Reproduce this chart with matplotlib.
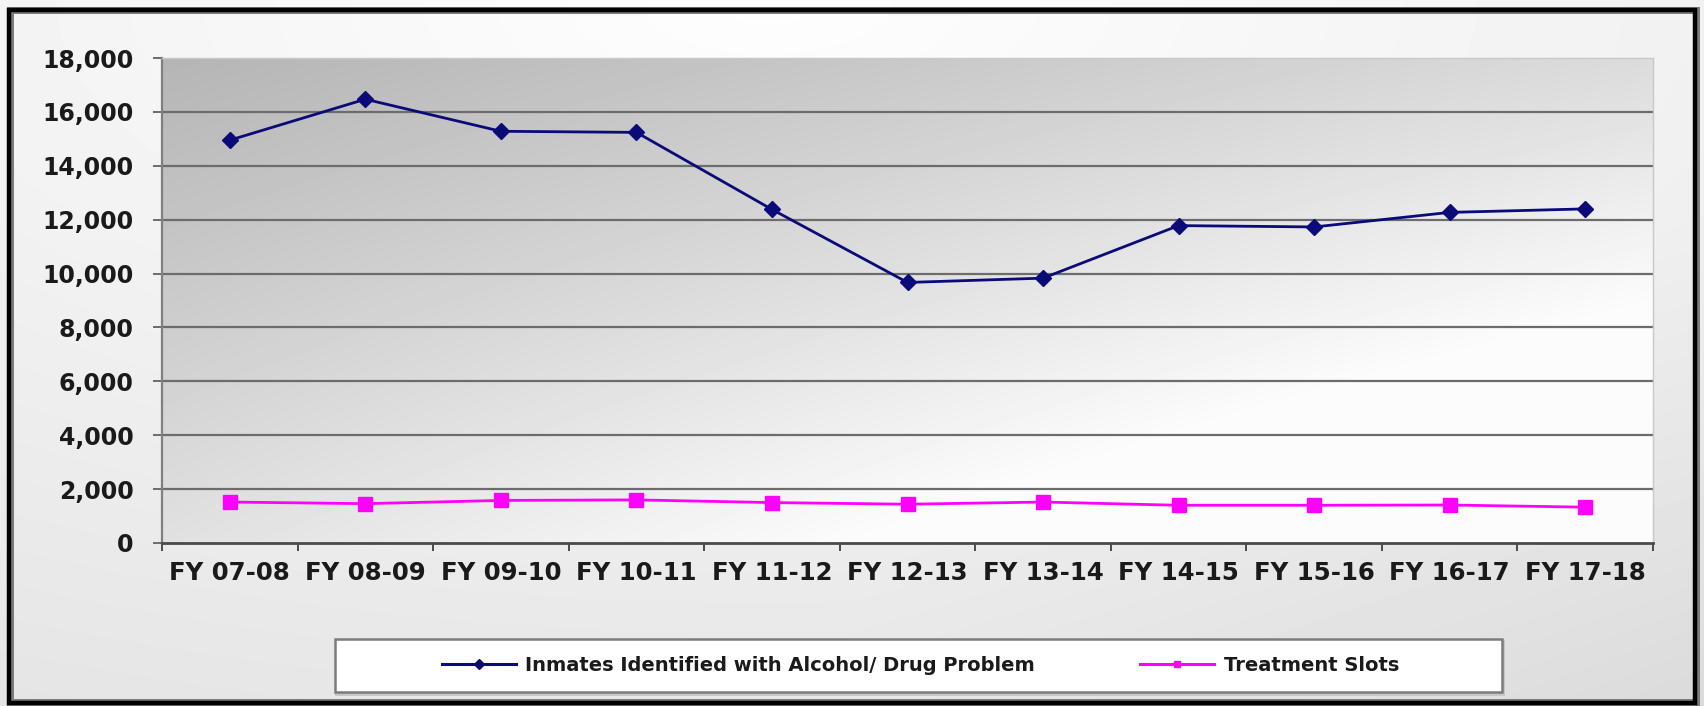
import numpy as np
import matplotlib
matplotlib.use("Agg")
import matplotlib.pyplot as plt
from matplotlib.lines import Line2D
from matplotlib.patches import Rectangle
from matplotlib.ticker import FixedLocator, FuncFormatter

# ---- data -------------------------------------------------------------
fiscal_years = ["FY 07-08", "FY 08-09", "FY 09-10", "FY 10-11", "FY 11-12",
                "FY 12-13", "FY 13-14", "FY 14-15", "FY 15-16", "FY 16-17",
                "FY 17-18"]
inmates_alcohol_drug = [14950, 16470, 15280, 15240, 12380, 9670, 9830,
                        11780, 11730, 12270, 12400]
treatment_slots = [1520, 1460, 1580, 1600, 1500, 1440, 1520, 1400, 1400,
                   1410, 1330]
y_ticks = [0, 2000, 4000, 6000, 8000, 10000, 12000, 14000, 16000, 18000]
series_names = ["Inmates Identified with Alcohol/ Drug Problem",
                "Treatment Slots"]

NAVY = "#0a0a78"
MAGENTA = "#ff00ff"
TEXT = "#1a1a1a"

W, H = 1704, 706
fig = plt.figure(figsize=(W / 100, H / 100), dpi=100)
fig.patch.set_facecolor("#f4f4f4")

# ---- soft page background inside the frame -----------------------------
bg = fig.add_axes([0, 0, 1, 1], zorder=-10)
bg.set_axis_off()
gx, gy = np.meshgrid(np.linspace(0, 1, 400), np.linspace(0, 1, 200))
# gy = 0 at top
shade = 0.995 - 0.10 * np.sqrt(((gx - 0.45) / 1.1) ** 2 + (gy * 0.9) ** 2)
shade -= 0.05 * np.clip(gy - 0.3, 0, 1) * np.clip(gx - 0.5, 0, 1) * 2
bg.imshow(shade, cmap="gray", vmin=0, vmax=1, aspect="auto",
          extent=[0, 1, 0, 1], origin="upper", interpolation="bicubic")
bg.set_xlim(0, 1)
bg.set_ylim(0, 1)

# outer black frame
fig.patches.append(Rectangle((10 / W, 4 / H), (W - 18) / W, (H - 14) / H,
                             transform=fig.transFigure, fill=False,
                             edgecolor="#7a7a7a", linewidth=5, zorder=-5))
fig.patches.append(Rectangle((9 / W, 3 / H), (W - 18) / W, (H - 13) / H,
                             transform=fig.transFigure, fill=False,
                             edgecolor="black", linewidth=3.2, zorder=-4))

# ---- plot area -----------------------------------------------------------
left, right, top, bottom = 162, 1653, 58, 543
ax = fig.add_axes([left / W, 1 - bottom / H, (right - left) / W,
                   (bottom - top) / H])
ax.set_facecolor("none")

n = len(fiscal_years)
x = np.arange(n)
ax.set_xlim(-0.5, n - 0.5)
ax.set_ylim(y_ticks[0], y_ticks[-1])

px, py = np.meshgrid(np.linspace(0, 1, 300), np.linspace(0, 1, 150))
# py = 0 at top
plot_shade = 0.71 + 0.15 * px + 0.17 * py - 0.02 * px * py
plot_shade = np.clip(plot_shade + 0.1 * px * py, 0, 0.985)
ax.imshow(plot_shade, cmap="gray", vmin=0, vmax=1, aspect="auto",
          extent=[-0.5, n - 0.5, y_ticks[0], y_ticks[-1]], origin="upper",
          interpolation="bicubic", zorder=0)

for yv in y_ticks[1:-1]:
    ax.axhline(yv, color="#6c6c6c", linewidth=1.6, zorder=1.1)

ax.plot(x, inmates_alcohol_drug, color=NAVY, linewidth=2.0, marker="D",
        markersize=8.5, markerfacecolor=NAVY, markeredgecolor=NAVY, zorder=3)
ax.plot(x, treatment_slots, color=MAGENTA, linewidth=2.0, marker="s",
        markersize=10, markerfacecolor=MAGENTA, markeredgecolor=MAGENTA,
        zorder=3)

# spines
for side in ("top", "right"):
    ax.spines[side].set_color("#c8c8c8")
    ax.spines[side].set_linewidth(1.0)
ax.spines["left"].set_color("#808080")
ax.spines["left"].set_linewidth(1.6)
ax.spines["bottom"].set_color("#4a4a4a")
ax.spines["bottom"].set_linewidth(2.0)

# y axis
ax.yaxis.set_major_locator(FixedLocator(y_ticks))
ax.yaxis.set_major_formatter(FuncFormatter(lambda v, p: f"{int(v):,}"))
ax.tick_params(axis="y", which="major", length=6.5, width=1.4,
               color="#6c6c6c", pad=14, labelsize=17, labelcolor=TEXT)

# x axis: tick marks between categories, labels under categories
ax.xaxis.set_major_locator(FixedLocator(np.arange(n + 1) - 0.5))
ax.xaxis.set_major_formatter(FuncFormatter(lambda v, p: ""))
ax.xaxis.set_minor_locator(FixedLocator(x))
ax.set_xticks(x, fiscal_years, minor=True)
ax.tick_params(axis="x", which="major", length=6, width=1.4,
               color="#4a4a4a")
ax.tick_params(axis="x", which="minor", length=0, pad=13, labelsize=17.6,
               labelcolor=TEXT)
for lbl in ax.get_xticklabels(minor=True) + ax.get_yticklabels():
    lbl.set_fontweight("bold")
    lbl.set_family("DejaVu Sans")

# ---- legend --------------------------------------------------------------
lx0, lx1, ly0, ly1 = 335, 1502, 639, 692
fig.patches.append(Rectangle((lx0 / W + 1 / W, 1 - ly1 / H - 2 / H),
                             (lx1 - lx0) / W, (ly1 - ly0) / H,
                             transform=fig.transFigure, facecolor="none",
                             edgecolor="#c4c4c4", linewidth=2, zorder=1))
fig.patches.append(Rectangle((lx0 / W, 1 - ly1 / H), (lx1 - lx0) / W,
                             (ly1 - ly0) / H, transform=fig.transFigure,
                             facecolor="white", edgecolor="#7c7c7c",
                             linewidth=1.8, zorder=2))
handles = [
    Line2D([], [], color=NAVY, linewidth=2.2, marker="D", markersize=5,
           markerfacecolor=NAVY, markeredgecolor=NAVY),
    Line2D([], [], color=MAGENTA, linewidth=2.2, marker="s", markersize=5,
           markerfacecolor=MAGENTA, markeredgecolor=MAGENTA),
]
leg = fig.legend(handles, series_names, loc="center",
                 bbox_to_anchor=((lx0 + lx1) / 2 / W + 2 / W,
                                 1 - (ly0 + ly1) / 2 / H),
                 ncol=2, frameon=False, handlelength=3.8, handletextpad=0.5,
                 columnspacing=5.4,
                 prop={"family": "DejaVu Sans", "weight": "bold",
                       "size": 14})
leg.set_zorder(3)
for t in leg.get_texts():
    t.set_color(TEXT)

fig.savefig("out.png", dpi=100)
